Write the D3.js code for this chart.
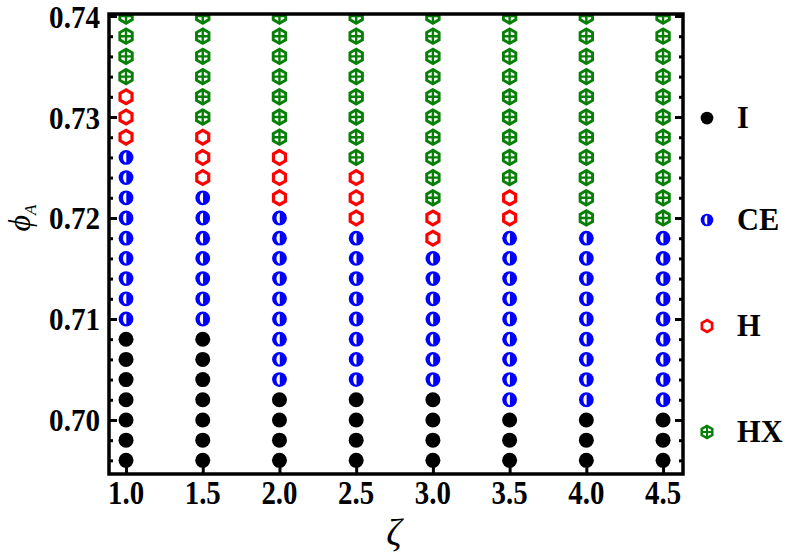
<!DOCTYPE html>
<html>
<head>
<meta charset="utf-8">
<script src="https://cdn.jsdelivr.net/npm/d3@7"></script>
<style>
  html, body { margin: 0; padding: 0; background: #fff; }
  svg { display: block; }
  text { font-family: "Liberation Serif", "Times New Roman", serif; }
</style>
</head>
<body>
<svg id="chart" width="788" height="558"></svg>
<script>
// ---- data ----
const zetaValues = [1.0, 1.5, 2.0, 2.5, 3.0, 3.5, 4.0, 4.5];
const phiValues = [0.696, 0.698, 0.700, 0.702, 0.704, 0.706, 0.708, 0.710, 0.712, 0.714, 0.716, 0.718,
                   0.720, 0.722, 0.724, 0.726, 0.728, 0.730, 0.732, 0.734, 0.736, 0.738, 0.740];
// phase per phi (bottom -> top): I = disordered, C = CE, H = hexagonal, X = HX
const phaseCols = [
  "IIIIIIICCCCCCCCCHHHXXXX", // zeta 1.0
  "IIIIIIICCCCCCCHHHXXXXXX", // zeta 1.5
  "IIIICCCCCCCCCHHHXXXXXXX", // zeta 2.0
  "IIIICCCCCCCCHHHXXXXXXXX", // zeta 2.5
  "IIIICCCCCCCHHXXXXXXXXXX", // zeta 3.0
  "IIICCCCCCCCCHHXXXXXXXXX", // zeta 3.5
  "IIICCCCCCCCCXXXXXXXXXXX", // zeta 4.0
  "IIICCCCCCCCCXXXXXXXXXXX"  // zeta 4.5
];
const xTicks = [1.0, 1.5, 2.0, 2.5, 3.0, 3.5, 4.0, 4.5];
const yTicks = [0.70, 0.71, 0.72, 0.73, 0.74];
const legendKeys = ["I", "C", "H", "X"];
const legendLabels = ["I", "CE", "H", "HX"];

// ---- layout ----
const svg = d3.select("#chart");
const L = 109, R = 683, T = 14, B = 474;
const x = d3.scaleLinear().domain([0.889, 4.630]).range([L, R]);
const y = d3.scaleLinear().domain([0.69465, 0.7402]).range([B, T]);

const colors = { I: "#000000", C: "#0000ff", H: "#ff0000", X: "#087f08" };

const points = [];
zetaValues.forEach((z, i) => {
  phaseCols[i].split("").forEach((p, j) => points.push({ z, phi: phiValues[j], p }));
});

function hexPath(r) {
  const pts = d3.range(6).map(k => {
    const a = Math.PI / 2 + k * Math.PI / 3;
    return [r * Math.cos(a), -r * Math.sin(a)];
  });
  return "M" + pts.map(p => p[0].toFixed(2) + "," + p[1].toFixed(2)).join("L") + "Z";
}

function drawMarker(g, p, s) {
  if (p === "I") {
    g.append("circle").attr("r", 7.5 * s).attr("fill", colors.I);
  } else if (p === "C") {
    g.append("circle").attr("r", 7.4 * s).attr("fill", colors.C);
    const ry = 5.2 * s, rx = 3.3 * s;
    g.append("path")
      .attr("d", `M${0.3 * s},${-ry} A${rx},${ry} 0 0 0 ${0.3 * s},${ry} Z`)
      .attr("fill", "#fff");
  } else if (p === "H") {
    g.append("path").attr("d", hexPath(6.9 * s)).attr("fill", "none")
      .attr("stroke", colors.H).attr("stroke-width", 3.2 * s);
  } else if (p === "X") {
    g.append("path").attr("d", hexPath(7.2 * s)).attr("fill", "none")
      .attr("stroke", colors.X).attr("stroke-width", 2.9 * s);
    g.append("path")
      .attr("d", `M${-6 * s},0H${6 * s}M0,${-6.8 * s}V${6.8 * s}`)
      .attr("stroke", colors.X).attr("stroke-width", 2.4 * s);
  }
}

// clip
svg.append("defs").append("clipPath").attr("id", "plotclip")
  .append("rect").attr("x", L).attr("y", T).attr("width", R - L).attr("height", B - T);

const plot = svg.append("g").attr("clip-path", "url(#plotclip)");
points.forEach(d => {
  const g = plot.append("g").attr("transform", `translate(${x(d.z)},${y(d.phi)})`);
  drawMarker(g, d.p, 1);
});

// axes (ticks inward)
const minorY = phiValues.filter(v => !yTicks.some(t => Math.abs(t - v) < 1e-9));
const axL = svg.append("g").attr("transform", `translate(${L},0)`)
  .call(d3.axisRight(y).tickValues(yTicks).tickSize(8).tickFormat(""));
const axLm = svg.append("g").attr("transform", `translate(${L},0)`)
  .call(d3.axisRight(y).tickValues(minorY).tickSize(4).tickFormat(""));
const axR = svg.append("g").attr("transform", `translate(${R},0)`)
  .call(d3.axisLeft(y).tickValues(yTicks).tickSize(8).tickFormat(""));
const axRm = svg.append("g").attr("transform", `translate(${R},0)`)
  .call(d3.axisLeft(y).tickValues(minorY).tickSize(4).tickFormat(""));
const axB = svg.append("g").attr("transform", `translate(0,${B})`)
  .call(d3.axisTop(x).tickValues(xTicks).tickSize(7).tickFormat(""));
[axL, axLm, axR, axRm, axB].forEach(a => {
  a.select(".domain").remove();
  a.selectAll(".tick line").attr("stroke", "#000").attr("stroke-width", 3);
});

// frame
svg.append("rect").attr("x", L).attr("y", T).attr("width", R - L).attr("height", B - T)
  .attr("fill", "none").attr("stroke", "#000").attr("stroke-width", 3.5);

// tick labels (tall, narrow glyphs as in the reference)
svg.append("g").selectAll("text").data(yTicks).join("text")
  .attr("transform", d => `translate(${L - 9},${y(d) + 11.5}) scale(0.97,1.04)`)
  .attr("text-anchor", "end").attr("font-size", 30).attr("font-weight", "bold")
  .text(d => d.toFixed(2));
svg.append("g").selectAll("text").data(xTicks).join("text")
  .attr("transform", d => `translate(${x(d)},504) scale(0.85,1)`)
  .attr("text-anchor", "middle").attr("font-size", 34).attr("font-weight", "bold")
  .text(d => d.toFixed(1));

// axis titles
svg.append("text").attr("x", 394).attr("y", 545).attr("text-anchor", "middle")
  .attr("font-size", 38).attr("font-style", "italic").text("ζ");
const yt = svg.append("text").attr("transform", "translate(30,218) rotate(-90)")
  .attr("text-anchor", "middle").attr("font-style", "italic");
yt.append("tspan").attr("font-size", 32).text("ϕ");
yt.append("tspan").attr("font-size", 17).attr("dy", 6).text("A");

// legend
const legY = [118, 220, 326, 432];
legendKeys.forEach((k, i) => {
  const g = svg.append("g").attr("transform", `translate(707,${legY[i]})`);
  drawMarker(g, k, 0.85);
  svg.append("text").attr("transform", `translate(737,${legY[i] + 10}) scale(0.95,1)`)
    .attr("font-size", 32).attr("font-weight", "bold").text(legendLabels[i]);
});
</script>
</body>
</html>
